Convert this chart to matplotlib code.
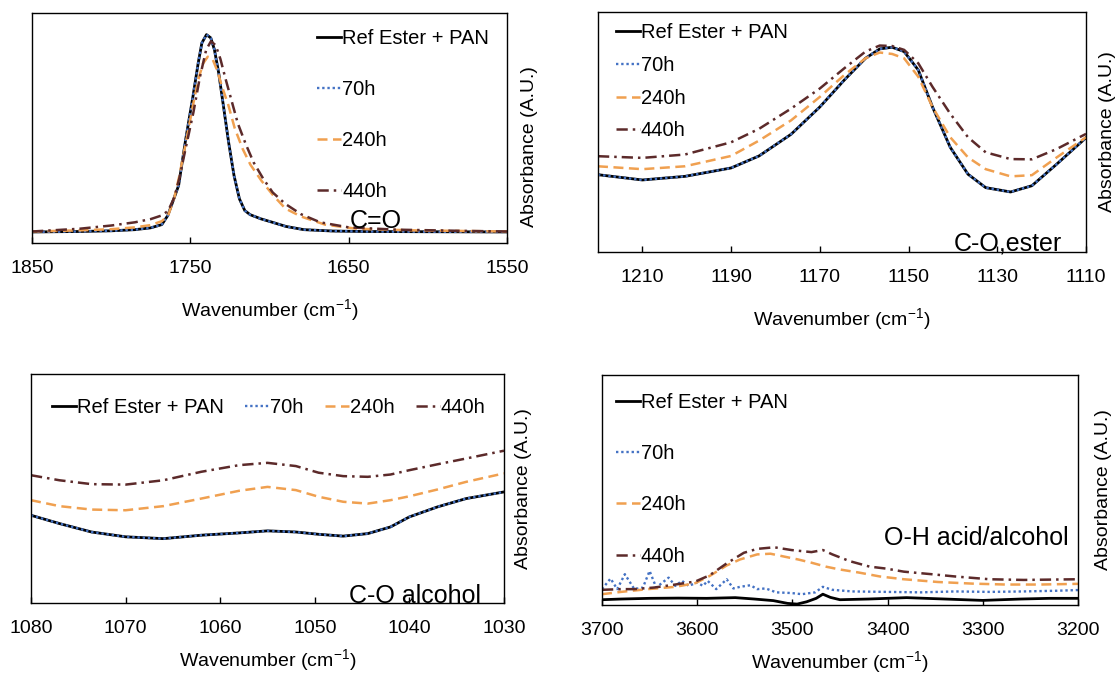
import numpy as np
import matplotlib.pyplot as plt

plt.rcParams['font.family'] = ['Liberation Sans', 'DejaVu Sans']
plt.rcParams['mathtext.default'] = 'regular'
plt.rcParams['font.size'] = 14

labels = ['Ref Ester + PAN', '70h', '240h', '440h']
colors = ['black', '#4472C4', '#F0A050', '#5C2A2A']
styles = ['-', (0, (1, 1.2)), (0, (4, 2.2)), (0, (4.5, 2, 1, 2))]
widths = [2.0, 1.7, 1.8, 1.8]

# C=O stretch region
co_wn_ref = [1850, 1820, 1800, 1785, 1775, 1768, 1764.2, 1757.4, 1752.9, 1748.3, 1745, 1742.7,
             1739.8, 1737.1, 1734.8, 1732.1, 1729.1, 1725.8, 1722.4, 1719, 1715.6, 1712.2,
             1705.4, 1698.6, 1689.6, 1678.3, 1660, 1640, 1600, 1550]
co_ref = [0.048, 0.05, 0.053, 0.058, 0.066, 0.08, 0.12, 0.25, 0.452, 0.639, 0.784, 0.87,
          0.906, 0.892, 0.841, 0.74, 0.596, 0.437, 0.293, 0.192, 0.141, 0.123,
          0.105, 0.091, 0.072, 0.058, 0.052, 0.05, 0.049, 0.048]
co_70 = [0.048, 0.05, 0.053, 0.058, 0.066, 0.08, 0.12, 0.25, 0.452, 0.639, 0.784, 0.87,
         0.906, 0.892, 0.841, 0.74, 0.596, 0.437, 0.293, 0.192, 0.141, 0.123,
         0.105, 0.091, 0.072, 0.058, 0.052, 0.05, 0.049, 0.048]
co_wn_240 = [1850, 1820, 1800, 1785, 1775, 1768, 1764, 1760, 1757, 1753, 1748, 1745, 1742,
             1739, 1736, 1733, 1730, 1726, 1722, 1717, 1712, 1705, 1698, 1690, 1680, 1665,
             1645, 1610, 1550]
co_240 = [0.05, 0.055, 0.06, 0.068, 0.078, 0.095, 0.12, 0.2, 0.29, 0.43, 0.61, 0.71, 0.78,
          0.81, 0.80, 0.75, 0.68, 0.60, 0.50, 0.41, 0.34, 0.27, 0.21, 0.15, 0.115, 0.08,
          0.062, 0.055, 0.05]
co_wn_440 = [1850, 1820, 1800, 1785, 1775, 1768, 1764, 1760, 1757, 1753, 1748, 1744, 1740,
             1737, 1734, 1731, 1728, 1724, 1720, 1715, 1710, 1704, 1698, 1690, 1680, 1668,
             1650, 1620, 1580, 1550]
co_440 = [0.05, 0.062, 0.076, 0.09, 0.104, 0.12, 0.14, 0.2, 0.28, 0.41, 0.57, 0.72, 0.84,
          0.877, 0.86, 0.8, 0.72, 0.62, 0.52, 0.43, 0.35, 0.28, 0.22, 0.17, 0.125, 0.09,
          0.068, 0.058, 0.053, 0.05]

# C-O ester region
es_wn = [1220, 1210, 1200.4, 1190, 1183.7, 1176.5, 1170, 1164.5, 1159.7, 1156.5, 1153.7,
         1151, 1147.8, 1144.6, 1140.6, 1136.6, 1132.6, 1127, 1122.2, 1116.6, 1110]
es_ref = [0.322, 0.30, 0.315, 0.35, 0.40, 0.49, 0.604, 0.716, 0.807, 0.846, 0.853,
          0.835, 0.758, 0.604, 0.436, 0.324, 0.268, 0.25, 0.276, 0.366, 0.476]
es_70 = [0.322, 0.30, 0.315, 0.35, 0.40, 0.49, 0.604, 0.716, 0.807, 0.846, 0.853,
         0.835, 0.758, 0.604, 0.436, 0.324, 0.268, 0.25, 0.276, 0.366, 0.476]
es_240 = [0.357, 0.345, 0.357, 0.40, 0.464, 0.548, 0.646, 0.737, 0.807, 0.831, 0.825,
          0.807, 0.73, 0.604, 0.478, 0.394, 0.345, 0.315, 0.32, 0.394, 0.478]
es_440 = [0.399, 0.392, 0.406, 0.457, 0.513, 0.597, 0.681, 0.765, 0.835, 0.86, 0.858,
          0.842, 0.786, 0.688, 0.576, 0.478, 0.415, 0.387, 0.386, 0.429, 0.492]

# C-O alcohol region
al_wn = [1080, 1077, 1073.6, 1070, 1066, 1062, 1058, 1055, 1052, 1049.6, 1047, 1044.4,
         1042, 1040, 1037, 1034, 1030]
al_ref = [0.383, 0.347, 0.31, 0.289, 0.281, 0.296, 0.306, 0.315, 0.31, 0.30, 0.292, 0.303,
          0.332, 0.376, 0.42, 0.456, 0.485]
al_70 = [0.383, 0.347, 0.31, 0.289, 0.281, 0.296, 0.306, 0.315, 0.31, 0.30, 0.292, 0.303,
         0.332, 0.376, 0.42, 0.456, 0.485]
al_240 = [0.449, 0.423, 0.408, 0.405, 0.423, 0.456, 0.49, 0.507, 0.493, 0.464, 0.442, 0.434,
          0.449, 0.466, 0.496, 0.529, 0.566]
al_440 = [0.558, 0.536, 0.519, 0.517, 0.536, 0.573, 0.602, 0.612, 0.598, 0.569, 0.554, 0.551,
          0.561, 0.58, 0.606, 0.631, 0.665]

# O-H region
oh_wn_ref = [3700, 3680, 3650, 3620, 3590, 3560, 3540, 3520, 3505, 3495, 3485, 3475, 3468,
             3460, 3450, 3420, 3380, 3340, 3300, 3260, 3230, 3200]
oh_ref = [0.023, 0.026, 0.029, 0.030, 0.029, 0.032, 0.026, 0.019, 0.007, 0.004, 0.014, 0.029,
          0.047, 0.033, 0.023, 0.026, 0.032, 0.026, 0.020, 0.026, 0.029, 0.029]
oh_wn_70 = [3700, 3691, 3684, 3676, 3666, 3657, 3650, 3643, 3630, 3623, 3616, 3609, 3600,
            3594, 3589, 3580, 3569, 3562, 3555, 3544, 3537, 3528, 3517, 3501, 3490, 3476,
            3468, 3458, 3437, 3401, 3365, 3329, 3293, 3257, 3222, 3200]
oh_70 = [0.069, 0.115, 0.069, 0.134, 0.069, 0.076, 0.148, 0.076, 0.119, 0.083, 0.105, 0.083,
         0.098, 0.083, 0.105, 0.069, 0.112, 0.072, 0.079, 0.086, 0.069, 0.072, 0.055, 0.052,
         0.047, 0.055, 0.079, 0.066, 0.059, 0.057, 0.055, 0.059, 0.057, 0.059, 0.062, 0.065]
oh_wn_240 = [3700, 3680, 3652, 3623, 3602, 3587, 3569, 3555, 3537, 3523, 3508, 3494, 3480,
             3465, 3451, 3430, 3408, 3383, 3347, 3311, 3276, 3240, 3200]
oh_240 = [0.047, 0.057, 0.069, 0.079, 0.095, 0.126, 0.172, 0.198, 0.22, 0.223, 0.21, 0.198,
          0.184, 0.167, 0.155, 0.141, 0.124, 0.112, 0.10, 0.093, 0.089, 0.089, 0.092]
oh_wn_440 = [3700, 3680, 3666, 3645, 3623, 3602, 3587, 3569, 3551, 3537, 3519, 3501, 3480,
             3468, 3458, 3440, 3419, 3401, 3383, 3354, 3329, 3293, 3257, 3200]
oh_440 = [0.066, 0.069, 0.069, 0.076, 0.089, 0.102, 0.129, 0.181, 0.227, 0.244, 0.251, 0.239,
          0.23, 0.239, 0.22, 0.191, 0.167, 0.158, 0.145, 0.134, 0.124, 0.112, 0.109, 0.112]

fig = plt.figure(figsize=(11.15, 6.75), dpi=100)

ax1 = fig.add_axes([0.0287, 0.640, 0.426, 0.3407])
ax2 = fig.add_axes([0.5363, 0.6267, 0.4377, 0.3556])
ax3 = fig.add_axes([0.0278, 0.1067, 0.4242, 0.3392])
ax4 = fig.add_axes([0.5399, 0.1037, 0.4269, 0.3407])

panels = [
    (ax1, [co_wn_ref, co_wn_ref, co_wn_240, co_wn_440], [co_ref, co_70, co_240, co_440],
     (1850, 1550), [1850, 1750, 1650, 1550], 14, 10),
    (ax2, [es_wn] * 4, [es_ref, es_70, es_240, es_440],
     (1220, 1110), [1210, 1190, 1170, 1150, 1130, 1110], 14, 9),
    (ax3, [al_wn] * 4, [al_ref, al_70, al_240, al_440],
     (1080, 1030), [1080, 1070, 1060, 1050, 1040, 1030], 7, 8),
    (ax4, [oh_wn_ref, oh_wn_70, oh_wn_240, oh_wn_440], [oh_ref, oh_70, oh_240, oh_440],
     (3700, 3200), [3700, 3600, 3500, 3400, 3300, 3200], 7, 12),
]

for ax, xs, ys, xlim, ticks, xpad, ypad in panels:
    for x, y, lab, c, ls, lw in zip(xs, ys, labels, colors, styles, widths):
        ax.plot(x, y, color=c, linestyle=ls, linewidth=lw, label=lab)
    ax.set_xlim(*xlim)
    ax.set_ylim(0, 1)
    ax.set_xticks(ticks)
    ax.set_yticks([])
    ax.tick_params(axis='x', direction='in', length=4, width=1, pad=12.5, labelsize=14)
    for s in ax.spines.values():
        s.set_linewidth(1.0)
    ax.set_xlabel('Wavenumber (cm$^{-1}$)', fontsize=14, labelpad=xpad)
    ax.yaxis.set_label_position('right')
    ax.set_ylabel('Absorbance (A.U.)', fontsize=14, labelpad=ypad)

# first panel's axis title sits a little low
ax1.yaxis.label.set_y(0.42)

leg_kw = dict(frameon=False, fontsize=14.5, handlelength=1.2, handletextpad=0.05,
              borderpad=0, borderaxespad=0, loc='upper left')
ax1.legend(bbox_to_anchor=(0.60, 0.93), labelspacing=1.58, **leg_kw)
ax2.legend(bbox_to_anchor=(0.036, 0.953), labelspacing=0.68, **leg_kw)
ax3.legend(bbox_to_anchor=(0.044, 0.896), ncol=4, columnspacing=1.05, **leg_kw)
ax4.legend(bbox_to_anchor=(0.029, 0.922), labelspacing=1.6, **leg_kw)

ax1.text(0.723, 0.065, 'C=O', transform=ax1.transAxes, fontsize=18, ha='center', va='baseline')
ax2.text(0.95, 0.008, 'C-O,ester', transform=ax2.transAxes, fontsize=18, ha='right', va='baseline')
ax3.text(0.952, 0.002, 'C-O alcohol', transform=ax3.transAxes, fontsize=18, ha='right', va='baseline')
ax4.text(0.98, 0.26, 'O-H acid/alcohol', transform=ax4.transAxes, fontsize=18, ha='right', va='baseline')

fig.savefig('out.png', dpi=100)
